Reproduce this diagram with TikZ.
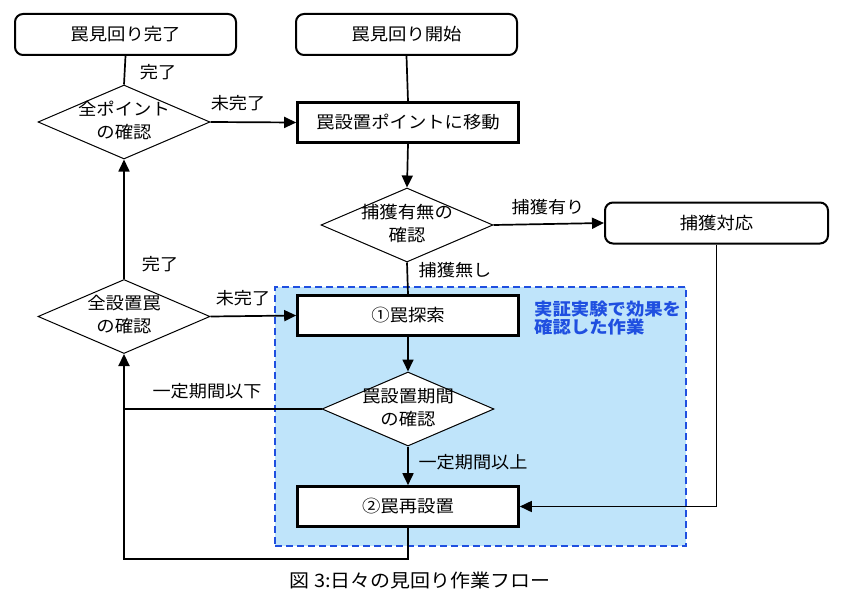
\documentclass[tikz,border=0pt]{standalone}
\usepackage{fontspec}
\setmainfont[FakeStretch=1.08]{Noto Sans CJK JP}
\usetikzlibrary{shapes.geometric,arrows.meta}
\definecolor{zonefill}{HTML}{BFE4FA}
\definecolor{zoneline}{HTML}{1F4FE0}
\tikzset{
  termbox/.style={draw, line width=2pt, rounded corners=8pt, minimum width=221pt, minimum height=41pt, inner sep=0pt, font=\fontsize{17}{20}\selectfont},
  procbox/.style={draw, line width=2.6pt, fill=white, minimum width=221pt, minimum height=40pt, inner sep=0pt, font=\fontsize{17}{20}\selectfont},
  decide/.style={draw, line width=1pt, fill=white, shape=diamond, shape aspect=2.32, minimum width=172pt, minimum height=74pt, inner sep=0pt},
  dtext/.style={inner sep=0pt, align=center, font=\fontsize{17}{23}\selectfont},
  conn/.style={line width=1.7pt},
  arr/.style={conn, -{Triangle[length=12pt,width=11pt]}},
  lbl/.style={inner sep=0pt, font=\fontsize{16.8}{18}\selectfont},
}
\begin{document}
\begin{tikzpicture}[x=1pt,y=-1pt]
\useasboundingbox (0,0) rectangle (842,596);
% shaded zone
\node[draw=zoneline, fill=zonefill, dashed, dash pattern=on 7pt off 4pt, line width=2pt, minimum width=411pt, minimum height=259pt, inner sep=0pt] (zone) at (480.5,416.5) {};
\node[anchor=north west, align=left, inner sep=0pt, text=zoneline, font=\bfseries\fontsize{17}{18}\selectfont] (note) at (534,301) {実証実験で効果を\\確認した作業};

% nodes
\node[termbox] (done) at (125.5,34.5) {罠見回り完了};
\node[termbox] (start) at (406.5,34.5) {罠見回り開始};
\node[procbox] (move) at (408,122.5) {罠設置ポイントに移動};
\node[decide] (ptchk) at (124,122) {};
\node[dtext] (ptchkt) at ([yshift=1.5pt]ptchk.center) {全ポイント\\の確認};
\node[decide] (capchk) at (407,225) {};
\node[dtext] (capchkt) at ([yshift=1.5pt]capchk.center) {捕獲有無の\\確認};
\node[termbox, minimum width=223pt] (capresp) at (716.5,223) {捕獲対応};
\node[decide] (allchk) at (124,316.5) {};
\node[dtext] (allchkt) at ([yshift=1.5pt]allchk.center) {全設置罠\\の確認};
\node[procbox] (search) at (408,315.5) {①罠探索};
\node[decide] (periodchk) at (408,409) {};
\node[dtext] (periodchkt) at ([yshift=1.5pt]periodchk.center) {罠設置期間\\の確認};
\node[procbox] (reset) at (408,506.5) {②罠再設置};

% connectors
\draw[conn] (ptchk.north) -- (done.south);
\draw[arr] (ptchk.east) -- (move.west);
\draw[conn] (start.south) -- (move.north);
\draw[arr] (move.south) -- (capchk.north);
\draw[arr] (capchk.east) -- (capresp.west);
\draw[conn] (capchk.south) -- (search.north);
\draw[arr] (search.south) -- (periodchk.north);
\draw[arr] (periodchk.south) -- (reset.north);
\draw[arr] (capresp.south) |- (reset.east);
\draw[arr] (allchk.east) -- (search.west);
\draw[arr] (allchk.north) -- (ptchk.south);
\coordinate (bl) at (124,559);
\coordinate (jn) at (allchk.south |- periodchk.west);
\draw[conn] (periodchk.west) -- (jn);
\draw[arr, line width=2.2pt] (reset.south) |- (bl) -- (allchk.south);

% labels
\node[lbl] (l1) at (158,72) {完了};
\node[lbl] (l2) at (238,103) {未完了};
\node[lbl] (l3) at (548,207) {捕獲有り};
\node[lbl] (l4) at (455,270) {捕獲無し};
\node[lbl] (l5) at (160,264) {完了};
\node[lbl] (l6) at (243,298) {未完了};
\node[lbl] (l7) at (207,391) {一定期間以下};
\node[lbl] (l8) at (473,462) {一定期間以上};

% caption
\node[inner sep=0pt, font=\fontsize{18.5}{20}\selectfont] (cap) at (420,580) {図 3:日々の見回り作業フロー};
\end{tikzpicture}
\end{document}
